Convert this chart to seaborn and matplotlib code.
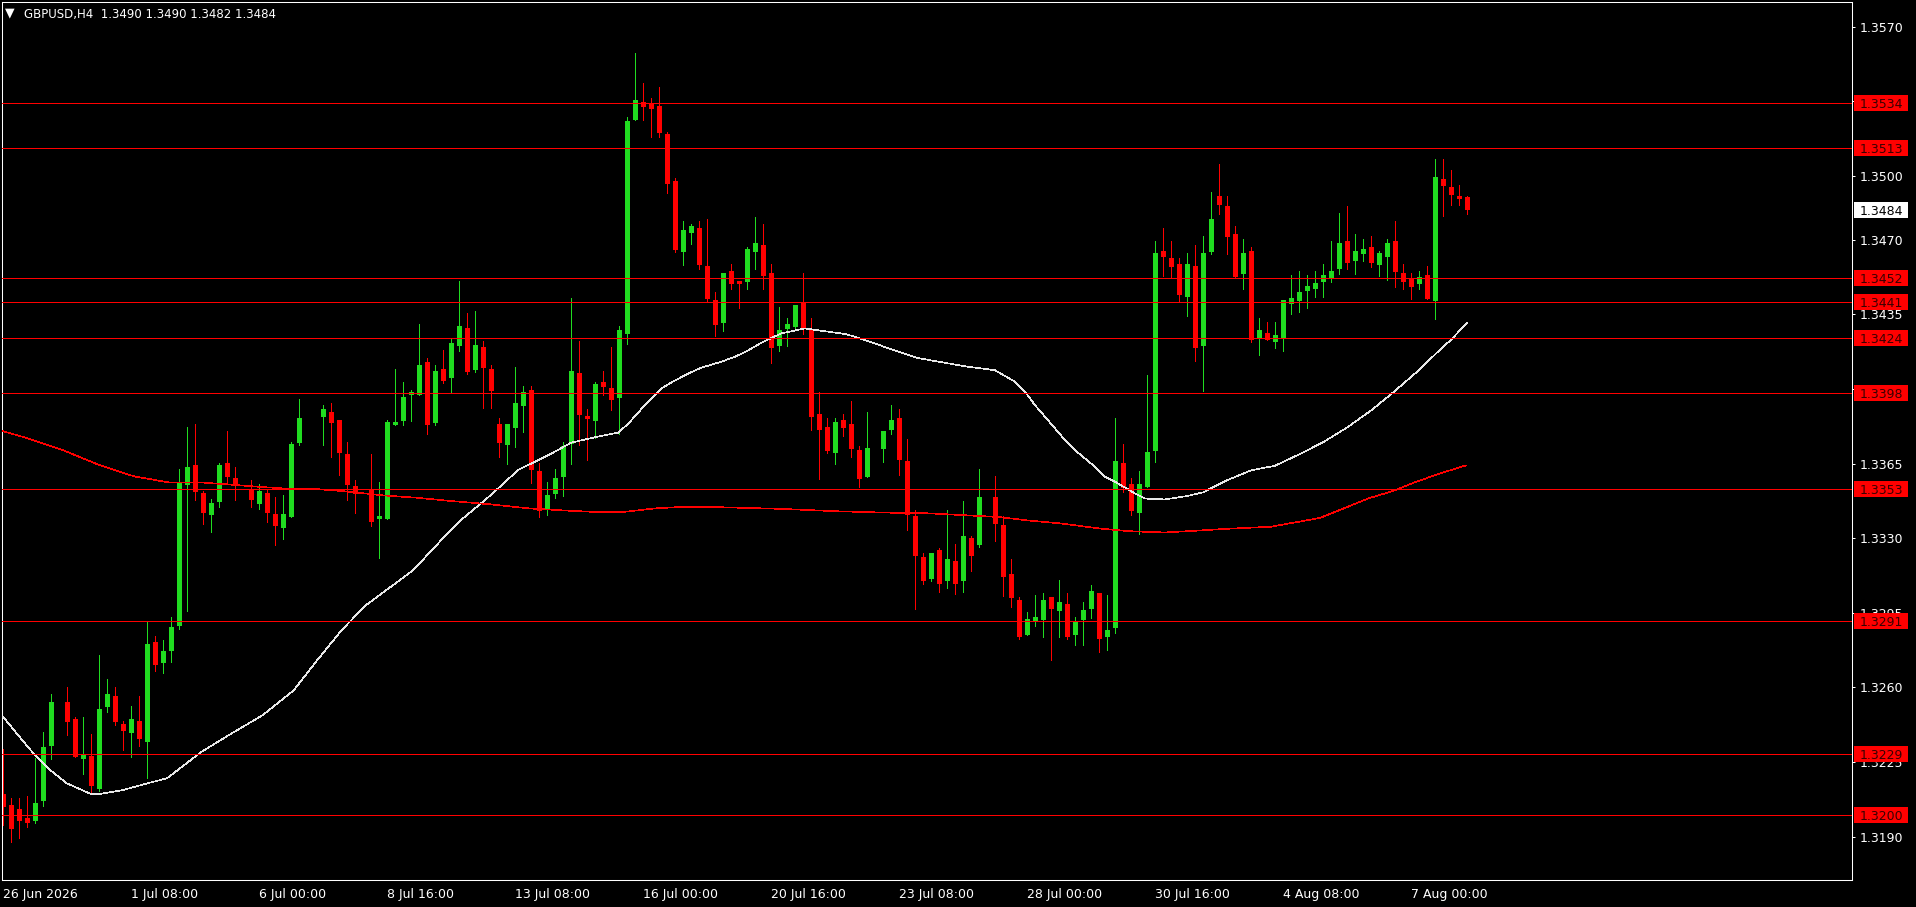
import numpy as np
import pandas as pd
import matplotlib
matplotlib.use("Agg")
import matplotlib.pyplot as plt
from matplotlib.patches import Rectangle
from matplotlib.transforms import blended_transform_factory
import seaborn as sns

nan = np.nan
symbol = "GBPUSD,H4"

# H4 bars (nan = no bar drawn in that slot)
opens = [
    1.32100, 1.32048, 1.32030, 1.31987, 1.31973, 1.32067, 1.32327, nan,
    1.32533, 1.32452, 1.32264, 1.32280, 1.32124, 1.32510, 1.32560, 1.32428,
    1.32388, 1.32442, 1.32346, 1.32813, 1.32716, 1.32770, 1.32890, 1.33549,
    1.33643, 1.33512, 1.33409, 1.33470, 1.33653, 1.33582, nan, 1.33531,
    1.33460, 1.33512, 1.33413, 1.33348, 1.33399, 1.33746, nan, nan,
    1.33868, 1.33892, 1.33854, 1.33695, 1.33545, nan, 1.33531, 1.33390,
    1.33390, 1.33831, 1.33850, 1.33972, 1.33972, 1.34126, 1.33840, 1.34094,
    1.34051, 1.34202, 1.34286, 1.34089, 1.34197, 1.34094, 1.33836, 1.33737,
    1.33817, 1.33920, 1.33995, 1.33615, 1.33437, 1.33508, 1.33587, 1.33742,
    1.34075, 1.33873, 1.33850, 1.34033, 1.34005, 1.33958, 1.34258, 1.35262,
    1.35346, 1.35342, 1.35327, 1.35196, 1.34976, 1.34642, 1.34731, 1.34755,
    1.34576, 1.34417, 1.34309, 1.34553, 1.34506, 1.34501, 1.34642, 1.34675,
    1.34544, 1.34201, 1.34281, 1.34290, 1.34403, 1.34281, 1.33882, 1.33821,
    1.33699, 1.33854, 1.33836, 1.33714, 1.33589, nan, 1.33718, 1.33807,
    1.33864, 1.33662, 1.33404, 1.33212, 1.33109, 1.33245, 1.33099, 1.33193,
    1.33099, 1.33301, 1.33268, nan, 1.33493, 1.33362, 1.33132, 1.33010,
    1.32847, 1.32911, 1.32917, 1.33024, 1.32958, 1.32991, 1.32847, 1.32917,
    1.32969, 1.33042, 1.32838, 1.32880, 1.33652, 1.33554, 1.33418, 1.33540,
    1.33709, 1.34647, 1.34614, 1.34586, 1.34431, 1.34577, 1.34202, 1.34643,
    1.34905, 1.34858, 1.34727, 1.34539, 1.34647, 1.34234, 1.34263, 1.34220,
    1.34239, 1.34399, 1.34413, 1.34460, 1.34469, 1.34502, 1.34521, 1.34563,
    1.34694, 1.34601, 1.34633, 1.34666, 1.34582, 1.34619, 1.34694, 1.34544,
    1.34516, 1.34493, 1.34535, 1.34413, 1.34985, 1.34948, 1.34905, 1.34902,
]
highs = [
    1.32311, 1.32081, 1.32080, 1.32091, 1.32270, 1.32391, 1.32569, nan,
    1.32602, 1.32463, 1.32463, 1.32381, 1.32752, 1.32639, 1.32602, 1.32441,
    1.32513, 1.32560, 1.32907, 1.32841, 1.32822, 1.32930, 1.33624, 1.33821,
    1.33836, 1.33520, 1.33484, 1.33653, 1.33803, 1.33634, nan, 1.33573,
    1.33554, 1.33531, 1.33493, 1.33503, 1.33751, 1.33953, nan, nan,
    1.33925, 1.33934, 1.33854, 1.33751, 1.33573, nan, 1.33695, 1.33564,
    1.33854, 1.34094, 1.34033, 1.33995, 1.34305, 1.34145, 1.34112, 1.34183,
    1.34234, 1.34506, 1.34356, 1.34366, 1.34225, 1.34113, 1.33864, 1.33836,
    1.34103, 1.34014, 1.34014, 1.33653, 1.33564, 1.33625, 1.33751, 1.34427,
    1.34225, 1.33906, 1.34033, 1.34085, 1.34197, 1.34296, 1.35276, 1.35576,
    1.35435, 1.35365, 1.35417, 1.35206, 1.34990, 1.34788, 1.34773, 1.34788,
    1.34797, 1.34455, 1.34544, 1.34586, 1.34506, 1.34666, 1.34806, 1.34773,
    1.34586, 1.34384, 1.34333, 1.34394, 1.34544, 1.34333, 1.33985, 1.33864,
    1.33864, 1.33882, 1.33943, 1.33732, 1.33892, nan, 1.33803, 1.33925,
    1.33906, 1.33765, 1.33432, 1.33230, 1.33230, 1.33254, 1.33432, 1.33273,
    1.33474, 1.33310, 1.33625, nan, 1.33592, 1.33404, 1.33202, 1.33025,
    1.32953, 1.33033, 1.33042, 1.33024, 1.33103, 1.33042, 1.32930, 1.33000,
    1.33080, 1.33042, 1.33033, 1.33863, 1.33741, 1.33582, 1.33615, 1.34065,
    1.34694, 1.34755, 1.34694, 1.34614, 1.34638, 1.34675, 1.34718, 1.34924,
    1.35055, 1.34905, 1.34764, 1.34703, 1.34666, 1.34333, 1.34314, 1.34314,
    1.34417, 1.34535, 1.34553, 1.34535, 1.34553, 1.34586, 1.34694, 1.34826,
    1.34858, 1.34727, 1.34704, 1.34718, 1.34647, 1.34704, 1.34788, 1.34586,
    1.34544, 1.34554, 1.34577, 1.35079, 1.35079, 1.35027, 1.34957, 1.34903,
]
lows = [
    1.31955, 1.31876, 1.31894, 1.31945, 1.31966, 1.32044, 1.32264, nan,
    1.32377, 1.32275, 1.32195, 1.32103, 1.32114, 1.32486, 1.32425, 1.32306,
    1.32275, 1.32327, 1.32177, 1.32679, 1.32669, 1.32720, 1.32872, 1.32960,
    1.33479, 1.33366, 1.33329, 1.33446, 1.33559, 1.33479, nan, 1.33446,
    1.33437, 1.33376, 1.33268, 1.33296, 1.33399, 1.33737, nan, nan,
    1.33737, 1.33681, 1.33596, 1.33479, 1.33418, nan, 1.33357, 1.33207,
    1.33390, 1.33831, 1.33831, 1.33850, 1.33972, 1.33789, 1.33831, 1.34028,
    1.33981, 1.34178, 1.34070, 1.34080, 1.33911, 1.33911, 1.33681, 1.33648,
    1.33728, 1.33798, 1.33559, 1.33400, 1.33409, 1.33489, 1.33498, 1.33648,
    1.33737, 1.33667, 1.33770, 1.33972, 1.33901, 1.33789, 1.34211, 1.35262,
    1.35262, 1.35182, 1.35182, 1.34919, 1.34644, 1.34581, 1.34680, 1.34562,
    1.34412, 1.34248, 1.34272, 1.34469, 1.34379, 1.34469, 1.34562, 1.34469,
    1.34122, 1.34178, 1.34201, 1.34281, 1.34258, 1.33807, 1.33577, 1.33699,
    1.33648, 1.33779, 1.33681, 1.33542, 1.33589, nan, 1.33657, 1.33789,
    1.33596, 1.33338, 1.32968, 1.33085, 1.33099, 1.33048, 1.33066, 1.33038,
    1.33048, 1.33146, 1.33259, nan, 1.33287, 1.33029, 1.32977, 1.32828,
    1.32847, 1.32888, 1.32838, 1.32728, 1.32838, 1.32828, 1.32800, 1.32800,
    1.32925, 1.32767, 1.32777, 1.32856, 1.33516, 1.33408, 1.33319, 1.33540,
    1.33657, 1.34530, 1.34521, 1.34413, 1.34342, 1.34131, 1.33991, 1.34633,
    1.34821, 1.34633, 1.34521, 1.34469, 1.34220, 1.34159, 1.34230, 1.34192,
    1.34178, 1.34352, 1.34361, 1.34380, 1.34431, 1.34431, 1.34502, 1.34540,
    1.34563, 1.34540, 1.34601, 1.34572, 1.34530, 1.34511, 1.34478, 1.34469,
    1.34422, 1.34469, 1.34422, 1.34328, 1.34812, 1.34863, 1.34863, 1.34821,
]
closes = [
    1.32038, 1.31936, 1.31973, 1.31964, 1.32058, 1.32321, 1.32533, nan,
    1.32439, 1.32275, 1.32289, 1.32139, 1.32499, 1.32569, 1.32439, 1.32397,
    1.32452, 1.32360, 1.32804, 1.32707, 1.32771, 1.32883, 1.33565, 1.33634,
    1.33518, 1.33418, 1.33465, 1.33643, 1.33587, 1.33549, nan, 1.33479,
    1.33521, 1.33418, 1.33357, 1.33413, 1.33742, 1.33864, nan, nan,
    1.33906, 1.33840, 1.33700, 1.33550, 1.33507, nan, 1.33376, 1.33404,
    1.33845, 1.33845, 1.33962, 1.33986, 1.34112, 1.33831, 1.34084, 1.34037,
    1.34216, 1.34295, 1.34080, 1.34206, 1.34098, 1.33991, 1.33747, 1.33836,
    1.33934, 1.33986, 1.33620, 1.33428, 1.33503, 1.33583, 1.33733, 1.34085,
    1.33878, 1.33859, 1.34023, 1.34009, 1.33948, 1.34277, 1.35257, 1.35356,
    1.35323, 1.35313, 1.35201, 1.34962, 1.34652, 1.34745, 1.34764, 1.34581,
    1.34422, 1.34300, 1.34544, 1.34492, 1.34492, 1.34656, 1.34684, 1.34530,
    1.34192, 1.34276, 1.34304, 1.34394, 1.34281, 1.33868, 1.33807, 1.33709,
    1.33845, 1.33817, 1.33718, 1.33579, 1.33723, nan, 1.33803, 1.33854,
    1.33667, 1.33409, 1.33216, 1.33099, 1.33230, 1.33085, 1.33202, 1.33085,
    1.33310, 1.33216, 1.33493, nan, 1.33367, 1.33118, 1.33019, 1.32838,
    1.32921, 1.32930, 1.33010, 1.32969, 1.33000, 1.32838, 1.32906, 1.32963,
    1.33052, 1.32828, 1.32869, 1.33662, 1.33535, 1.33427, 1.33554, 1.33704,
    1.34638, 1.34619, 1.34572, 1.34441, 1.34586, 1.34192, 1.34638, 1.34797,
    1.34863, 1.34713, 1.34525, 1.34638, 1.34230, 1.34277, 1.34230, 1.34253,
    1.34417, 1.34427, 1.34455, 1.34483, 1.34497, 1.34535, 1.34554, 1.34685,
    1.34591, 1.34647, 1.34657, 1.34591, 1.34638, 1.34685, 1.34549, 1.34502,
    1.34478, 1.34525, 1.34422, 1.34994, 1.34952, 1.34910, 1.34891, 1.34840,
]

# moving averages, sampled along the drawn lines (bar position, price)
fast_ma_bar = [0, 1.7, 3.8, 5.9, 8, 11, 12, 15, 18, 20.5, 24.8, 28.6, 32.5, 36.3,
               39.3, 42.4, 45.4, 48.5, 51.3, 54.6, 57.5, 60.9, 64.4, 68.6, 71,
               74.4, 76.9, 78.2, 80.25, 82.3, 84, 85.7, 87.3, 89.8, 91.5, 93.2,
               94.8, 97.3, 100.25, 102.3, 105.25, 106.5, 114.2, 120.3, 124,
               126.5, 127.75, 129, 130.25, 131.5, 132.75, 134, 135.25, 136.5,
               137.75, 139, 141.5, 142.75, 145.25, 148, 150, 153, 156, 159, 162,
               165, 168, 171, 174, 177, 180, 181, 183]
fast_ma = [1.32463, 1.32385, 1.32291, 1.32213, 1.32150, 1.32100, 1.32100, 1.32119,
           1.32150, 1.32174, 1.32298, 1.32385, 1.32471, 1.32585, 1.32729, 1.32872,
           1.32987, 1.33073, 1.33151, 1.33284, 1.33393, 1.33500, 1.33620, 1.33698,
           1.33748, 1.33777, 1.33795, 1.33839, 1.33925, 1.34003, 1.34040, 1.34073,
           1.34100, 1.34128, 1.34151, 1.34182, 1.34217, 1.34261, 1.34284, 1.34273,
           1.34258, 1.34245, 1.34146, 1.34106, 1.34088, 1.34034, 1.33987, 1.33924,
           1.33870, 1.33815, 1.33760, 1.33713, 1.33674, 1.33635, 1.33588, 1.33565,
           1.33510, 1.33486, 1.33482, 1.33498, 1.33515, 1.33572, 1.33618, 1.33640,
           1.33693, 1.33750, 1.33819, 1.33899, 1.33991, 1.34089, 1.34198, 1.34230,
           1.34311]
slow_ma_bar = [0, 2.7, 7.3, 11.8, 16.4, 20.7, 24.6, 27.5, 31.7, 35.7, 38.6, 42.5,
               47.5, 51.7, 55.9, 60.9, 65.7, 70.7, 74.8, 77.3, 81.5, 84, 90, 97,
               104.6, 110.5, 115.5, 120.7, 124.6, 128.2, 132.3, 137, 140.7, 145.25,
               149, 152.4, 158.5, 164.6, 167.6, 170.7, 173.7, 176.8, 179.9, 182.9]
slow_ma = [1.33802, 1.33773, 1.33716, 1.33647, 1.33590, 1.33562, 1.33562, 1.33554,
           1.33542, 1.33532, 1.33532, 1.33521, 1.33501, 1.33490, 1.33475, 1.33459,
           1.33440, 1.33429, 1.33422, 1.33422, 1.33440, 1.33445, 1.33445, 1.33438,
           1.33426, 1.33420, 1.33417, 1.33407, 1.33399, 1.33383, 1.33369, 1.33346,
           1.33333, 1.33327, 1.33335, 1.33343, 1.33354, 1.33395, 1.33440, 1.33487,
           1.33521, 1.33567, 1.33607, 1.33642]

levels = [1.3534, 1.3513, 1.3452, 1.3441, 1.3424, 1.3398, 1.3353, 1.3291, 1.3229, 1.3200]
price_ticks = [1.3190, 1.3225, 1.3260, 1.3295, 1.3330, 1.3365, 1.3400, 1.3435,
               1.3470, 1.3500, 1.3535, 1.3570]
time_ticks = [0, 16, 32, 48, 64, 80, 96, 112, 128, 144, 160, 176]
time_labels = ["26 Jun 2026", "1 Jul 08:00", "6 Jul 00:00", "8 Jul 16:00",
               "13 Jul 08:00", "16 Jul 00:00", "20 Jul 16:00", "23 Jul 08:00",
               "28 Jul 00:00", "30 Jul 16:00", "4 Aug 08:00", "7 Aug 00:00"]

GREEN = "#20dc20"
RED = "#ff0000"
PX = 0.72          # one pixel at dpi 100, in points
W, H = 1916, 907
PX_PRICE = 1 / 21320.0   # price per pixel on this scale

sns.set_theme(style="dark", rc={"axes.facecolor": "black", "figure.facecolor": "black",
                                "axes.grid": False})
plt.rcParams["font.family"] = ["DejaVu Sans"]

fig = plt.figure(figsize=(W / 100, H / 100), dpi=100)
ax = fig.add_axes([2 / W, 27 / H, 1850 / W, 878 / H])
ax.set_facecolor("black")

bars = pd.DataFrame({"o": opens, "h": highs, "l": lows, "c": closes})
bars["bar"] = np.arange(len(bars))
bars = bars.dropna()
up = bars["c"] >= bars["o"]
colors = np.where(up, GREEN, RED)

# wicks + bodies
ax.vlines(bars["bar"], bars["l"], bars["h"], colors=colors, lw=PX,
          antialiased=False, zorder=2)
body_lo = np.minimum(bars["o"], bars["c"])
body_h = np.maximum((bars["c"] - bars["o"]).abs(), PX_PRICE)
ax.bar(bars["bar"], body_h, bottom=body_lo, width=0.625, color=colors,
       linewidth=0, antialiased=False, zorder=2)

# moving averages
ma = pd.DataFrame({"bar": fast_ma_bar, "price": fast_ma})
ma_slow = pd.DataFrame({"bar": slow_ma_bar, "price": slow_ma})
sns.lineplot(data=ma, x="bar", y="price", ax=ax, color="#e8e8e8", linewidth=0.45,
             sort=False, estimator=None, antialiased=False, zorder=3)
sns.lineplot(data=ma_slow, x="bar", y="price", ax=ax, color=RED, linewidth=0.45,
             sort=False, estimator=None, antialiased=False, zorder=3)

for lv in levels:
    ax.axhline(lv, color=RED, lw=PX, antialiased=False, zorder=4)

ax.set_xlim(-0.125, 231.125)
ax.set_ylim(1.31697, 1.35815)

# axes styling (MT4 look)
for s in ax.spines.values():
    s.set_color("white")
    s.set_linewidth(0.75)
ax.yaxis.tick_right()
ax.set_yticks(price_ticks)
ax.set_yticklabels([f"{v:.4f}" for v in price_ticks])
ax.tick_params(axis="y", colors="white", length=2.2, width=PX, pad=3.6, labelsize=9,
               left=False, right=True)
ax.set_xticks(time_ticks)
ax.set_xticklabels(time_labels)
for lab in ax.get_xticklabels():
    lab.set_horizontalalignment("left")
ax.tick_params(axis="x", colors="white", length=2.9, width=PX, pad=3, labelsize=9)
ax.set_xlabel("")
ax.set_ylabel("")

# price tags on the right edge
trans = blended_transform_factory(ax.transAxes, ax.transData)
box_x0 = (1854 - 2) / 1850
box_w = 54 / 1850
text_x = (1860 - 2) / 1850
box_h = 16 * PX_PRICE


def price_tag(value, face, ink):
    ax.add_patch(Rectangle((box_x0, value - box_h / 2), box_w, box_h, transform=trans,
                           facecolor=face, edgecolor="none", clip_on=False, zorder=6))
    ax.text(text_x, value, f"{value:.4f}", transform=trans, ha="left",
            va="center_baseline", fontsize=9, color=ink, clip_on=False, zorder=7)


for lv in levels:
    price_tag(lv, RED, "#3a0000")
price_tag(closes[-1], "white", "black")

# header
fig.text(5 / W, 1 - 16.5 / H, "\u25bc", color="white", fontsize=9, va="baseline")
fig.text(24 / W, 1 - 18 / H,
         f"{symbol}  {opens[-1]:.4f} {highs[-1]:.4f} {lows[-1]:.4f} {closes[-1]:.4f}",
         color="white", fontsize=8.5, va="baseline")

fig.savefig("out.png", dpi=100, facecolor="black")
